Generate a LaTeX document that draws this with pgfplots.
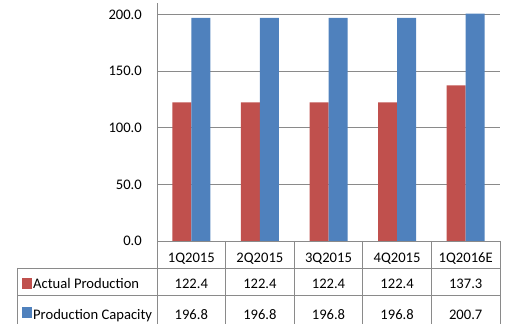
\documentclass[border=0pt]{standalone}
\usepackage{pgfplots}
\pgfplotsset{compat=1.18}
\usepackage{pgfplotstable}
\usepackage{fontspec}
\setmainfont{Carlito}
\definecolor{cred}{HTML}{C0504D}
\definecolor{cblue}{HTML}{4F81BD}
\definecolor{cgrid}{HTML}{8A8A8A}

\pgfplotstableread{
x actual capacity
0 122.4 196.8
1 122.4 196.8
2 122.4 196.8
3 122.4 196.8
4 137.3 200.7
}\data

\begin{document}
\begin{tikzpicture}[x=1pt,y=1pt,font=\fontsize{14.6}{17}\selectfont]
\useasboundingbox (0,0) rectangle (506,324);
\begin{axis}[
  at={(157pt,83pt)}, anchor=south west,
  scale only axis, width=343pt, height=238pt,
  xmin=-0.5, xmax=4.5, ymin=0, ymax=210,
  ytick={0,50,100,150,200}, xtick=\empty,
  /pgf/number format/assume math mode=true,
  yticklabel={\pgfmathprintnumber[fixed,fixed zerofill,precision=1]{\tick}},
  yticklabel style={anchor=east, inner sep=0pt, xshift=-15pt},
  major tick length=0pt,
  axis lines*=left,
  axis line style={cgrid, line width=0.9pt},
  ymajorgrids, grid style={cgrid, line width=0.9pt},
  ybar=0pt, bar width=19pt,
  clip=false,
]
\addplot[fill=cred, draw=none] table[x=x,y=actual]{\data};
\addplot[fill=cblue, draw=none] table[x=x,y=capacity]{\data};
\end{axis}
% data table grid
\begin{scope}[cgrid, line width=0.9pt]
  \foreach \i in {0,...,5} {
    \draw ({157+68.6*\i},83) -- ({157+68.6*\i},0);
  }
  \draw (17,56) -- (500,56);
  \draw (17,29) -- (500,29);
  \draw (17,56) -- (17,0);
\end{scope}
% header
\foreach \lab [count=\i from 0] in {1Q2015,2Q2015,3Q2015,4Q2015,1Q2016E} {
  \node[anchor=base, inner sep=0pt] at ({157+68.6*(\i+0.5)},61) {\lab};
}
\foreach \v [count=\i from 0] in {122.4,122.4,122.4,122.4,137.3} {
  \node[anchor=base, inner sep=0pt] at ({157+68.6*(\i+0.5)},35) {\v};
}
\foreach \v [count=\i from 0] in {196.8,196.8,196.8,196.8,200.7} {
  \node[anchor=base, inner sep=0pt] at ({157+68.6*(\i+0.5)},5) {\v};
}
\fill[cred] (22,35) rectangle (32,46);
\fill[cblue] (22,6) rectangle (32,17);
\node[anchor=base west, inner sep=0pt] at (33,35) {Actual Production};
\node[anchor=base west, inner sep=0pt] at (33,5) {Production Capacity};
\end{tikzpicture}
\end{document}
